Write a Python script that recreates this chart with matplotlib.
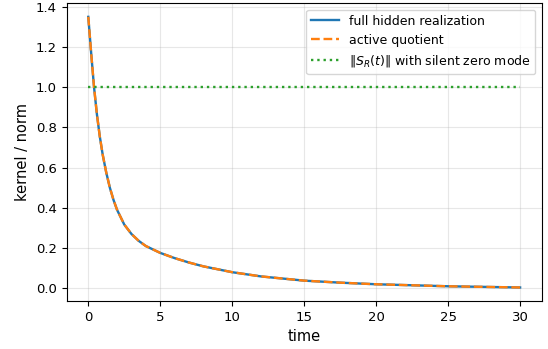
import matplotlib
matplotlib.use("Agg")
import matplotlib.pyplot as plt

# time samples and kernel values
time = [0, 0.2, 0.4, 0.6, 0.8, 1.0, 1.25, 1.5, 1.75, 2.0, 2.5, 3.0, 3.5, 4.0,
        5.0, 6.0, 7.0, 8.0, 10.0, 12.0, 15.0, 17.5, 20.0, 25.0, 30.0]
full_hidden = [1.35, 1.17, 1.0, 0.865, 0.755, 0.665, 0.575, 0.50, 0.44, 0.39,
               0.317, 0.27, 0.236, 0.21, 0.176, 0.15, 0.128, 0.109, 0.08, 0.059,
               0.038, 0.028, 0.02, 0.01, 0.004]
active_quotient = list(full_hidden)
norm_time = [0, 30]
norm_values = [1.0, 1.0]

labels = ["full hidden realization", "active quotient",
          r"$\|S_R(t)\|$ with silent zero mode"]

fig = plt.figure(figsize=(5.48, 3.49), dpi=100)
ax = fig.add_axes([0.1217, 0.1375, 0.8668, 0.8530])
ax.plot(time, full_hidden, color="#1f77b4", lw=1.7, label=labels[0])
ax.plot(time, active_quotient, color="#ff7f0e", lw=1.7, ls="--", label=labels[1])
ax.plot(norm_time, norm_values, color="#2ca02c", lw=1.7, ls=":", label=labels[2])
ax.grid(True, alpha=0.3)
ax.set_xlabel("time", fontsize=10.5)
ax.set_ylabel("kernel / norm", fontsize=10.5)
ax.tick_params(labelsize=9.5)
ax.legend(loc="upper right", fontsize=9, handlelength=2.2)
fig.savefig("out.png", dpi=100)
